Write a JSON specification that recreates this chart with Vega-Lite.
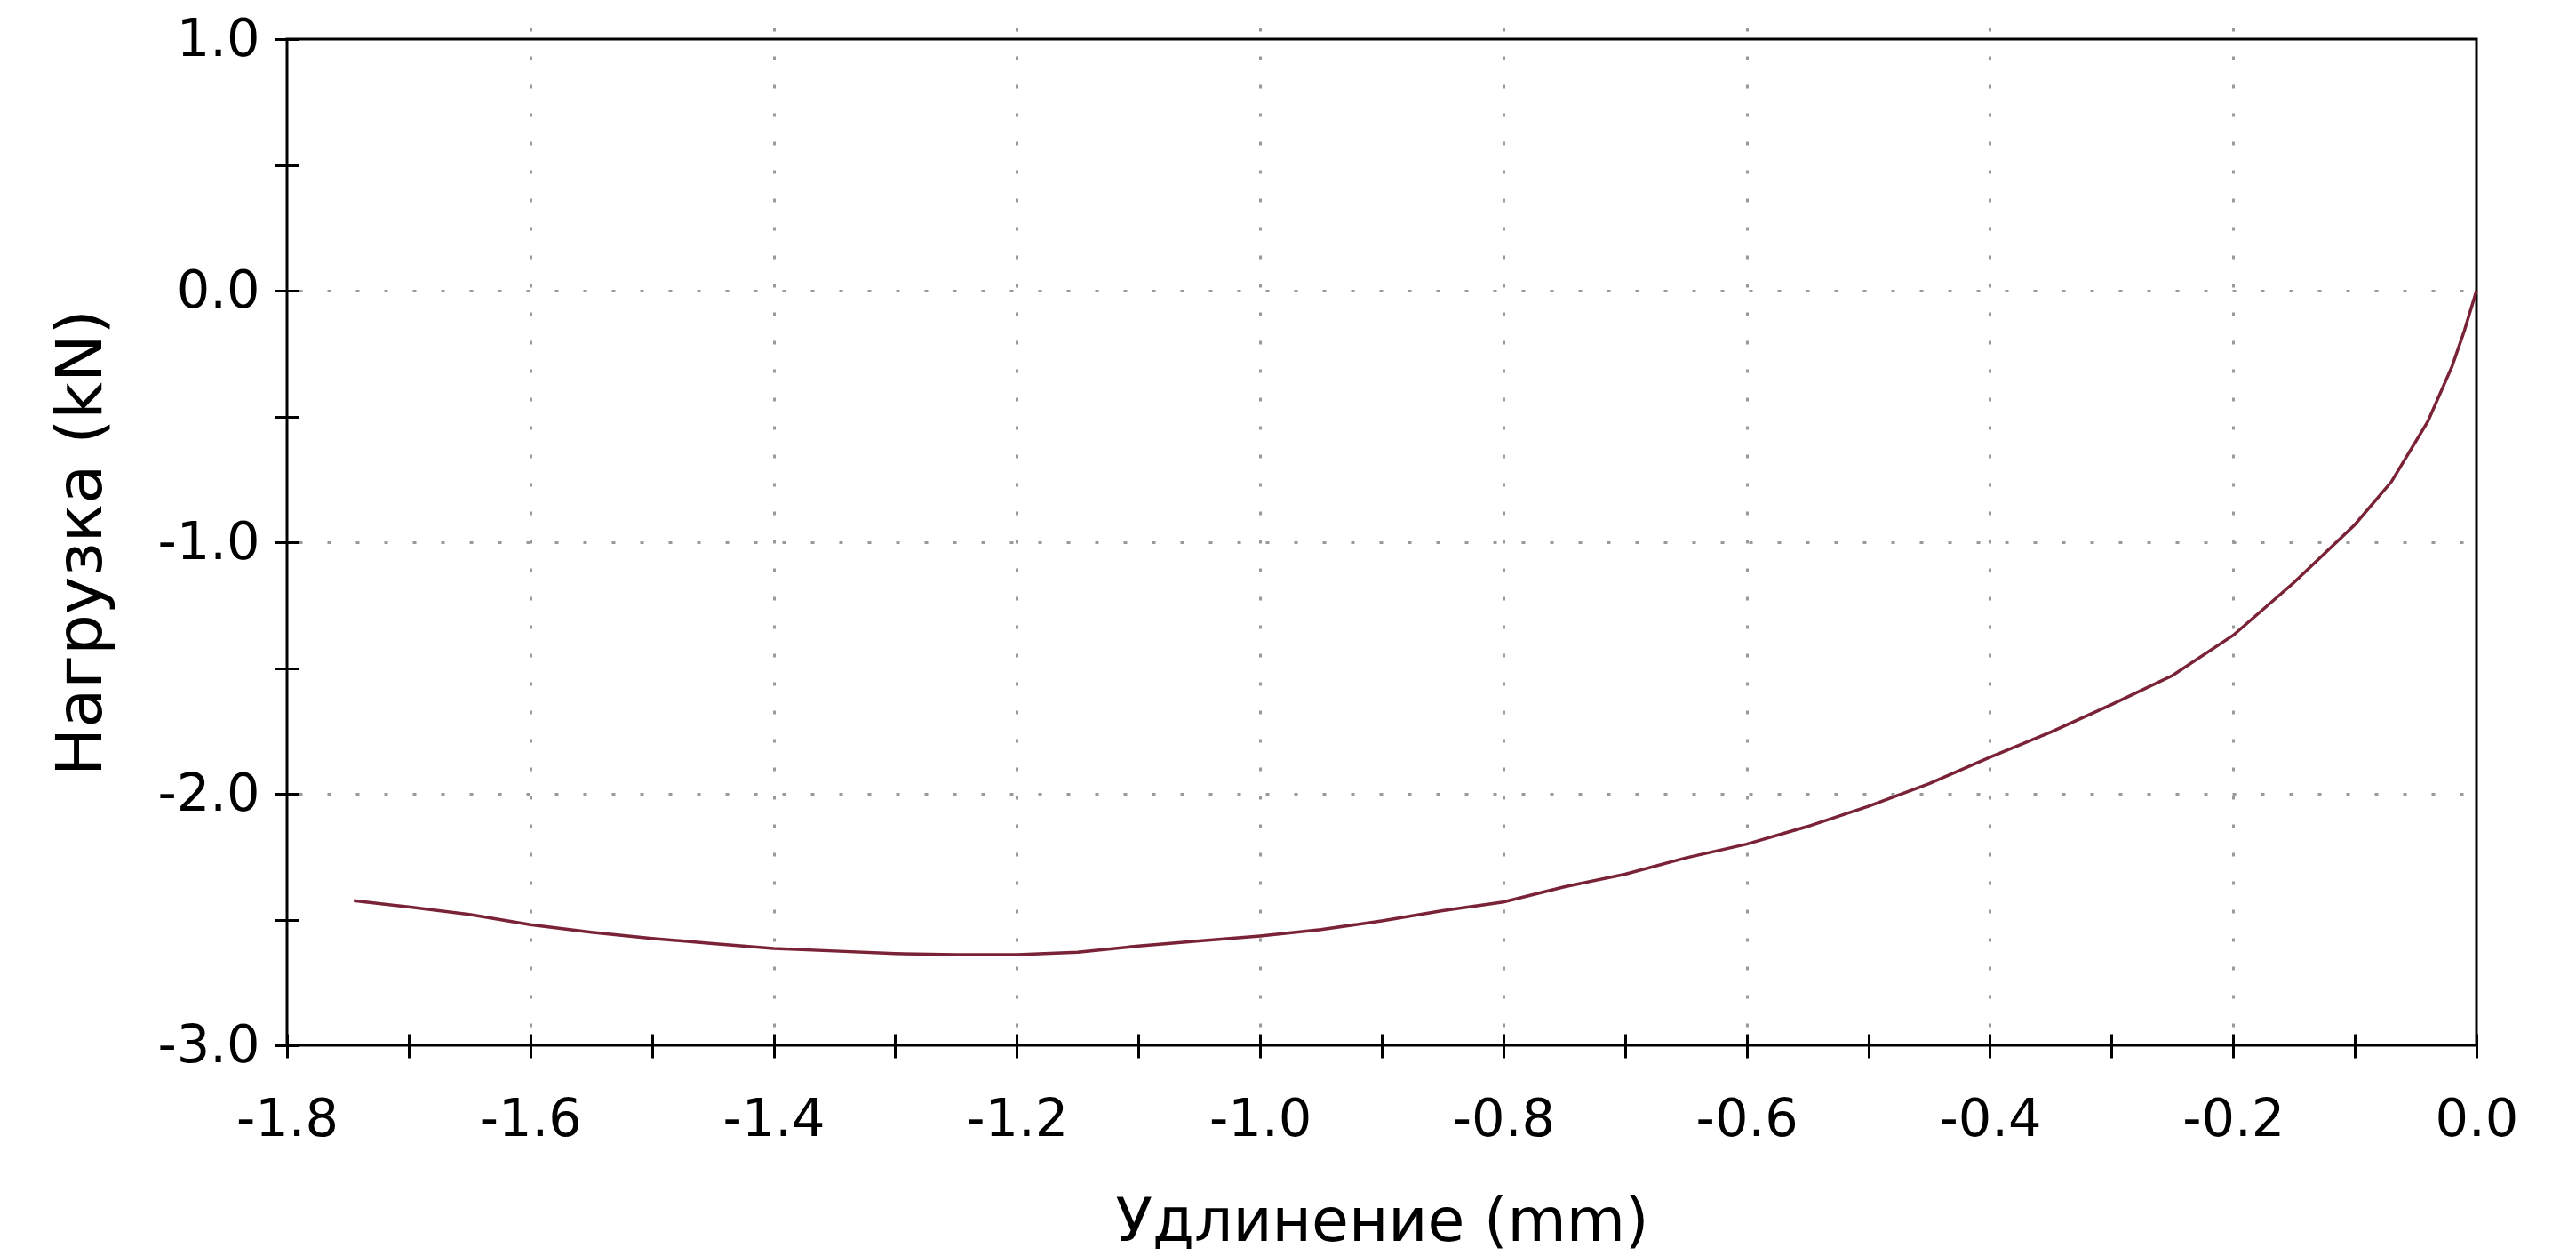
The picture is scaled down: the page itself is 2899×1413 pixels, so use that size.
{
  "$schema": "https://vega.github.io/schema/vega-lite/v6.json",
  "autosize": {"type": "none"},
  "width": 2464,
  "height": 1132,
  "padding": {"left": 323, "top": 44, "right": 112, "bottom": 237},
  "background": "white",
  "config": {
    "view": {"stroke": "black", "strokeWidth": 3},
    "font": "DejaVu Sans",
    "axis": {
      "domain": false,
      "tickColor": "black",
      "tickWidth": 3,
      "tickSize": 27,
      "offset": -13,
      "labelFont": "DejaVu Sans",
      "labelFontSize": 59,
      "labelColor": "black",
      "titleFont": "DejaVu Sans",
      "titleFontWeight": "normal",
      "titleColor": "black",
      "gridColor": "#9a9a9a",
      "gridWidth": 3,
      "gridDash": [4, 28]
    }
  },
  "data": {
    "values": [
      {"elong": -1.745, "load": -2.425},
      {"elong": -1.70, "load": -2.45},
      {"elong": -1.65, "load": -2.48},
      {"elong": -1.60, "load": -2.52},
      {"elong": -1.55, "load": -2.55},
      {"elong": -1.50, "load": -2.575},
      {"elong": -1.45, "load": -2.595},
      {"elong": -1.40, "load": -2.615},
      {"elong": -1.35, "load": -2.625},
      {"elong": -1.30, "load": -2.635},
      {"elong": -1.25, "load": -2.64},
      {"elong": -1.20, "load": -2.64},
      {"elong": -1.15, "load": -2.63},
      {"elong": -1.10, "load": -2.605},
      {"elong": -1.05, "load": -2.585},
      {"elong": -1.00, "load": -2.565},
      {"elong": -0.95, "load": -2.54},
      {"elong": -0.90, "load": -2.505},
      {"elong": -0.85, "load": -2.465},
      {"elong": -0.80, "load": -2.43},
      {"elong": -0.75, "load": -2.37},
      {"elong": -0.70, "load": -2.32},
      {"elong": -0.65, "load": -2.255},
      {"elong": -0.60, "load": -2.20},
      {"elong": -0.55, "load": -2.13},
      {"elong": -0.50, "load": -2.05},
      {"elong": -0.45, "load": -1.96},
      {"elong": -0.40, "load": -1.855},
      {"elong": -0.35, "load": -1.755},
      {"elong": -0.30, "load": -1.645},
      {"elong": -0.25, "load": -1.53},
      {"elong": -0.20, "load": -1.37},
      {"elong": -0.15, "load": -1.16},
      {"elong": -0.10, "load": -0.93},
      {"elong": -0.07, "load": -0.76},
      {"elong": -0.04, "load": -0.52},
      {"elong": -0.02, "load": -0.30},
      {"elong": -0.01, "load": -0.16},
      {"elong": 0.0, "load": 0.0}
    ]
  },
  "mark": {"type": "line", "color": "#7a2236", "strokeWidth": 3.5},
  "encoding": {
    "x": {
      "field": "elong",
      "type": "quantitative",
      "scale": {"domain": [-1.8, 0], "nice": false, "zero": false},
      "axis": {
        "title": "Удлинение (mm)",
        "titleFontSize": 68,
        "values": [-1.8, -1.7, -1.6, -1.5, -1.4, -1.3, -1.2, -1.1, -1.0, -0.9, -0.8, -0.7, -0.6, -0.5, -0.4, -0.3, -0.2, -0.1, 0],
        "labelExpr": "abs(round(datum.value * 10)) % 2 === 0 ? replace(format(datum.value, '.1f'), '−', '-') : ''",
        "labelPadding": 40,
        "labelFlush": false,
        "labelOverlap": false,
        "titlePadding": 52,
        "grid": true,
        "gridOpacity": {"condition": {"test": "abs(round(datum.value * 10)) % 2 === 0 && datum.value > -1.75 && datum.value < -0.05", "value": 1}, "value": 0}
      }
    },
    "y": {
      "field": "load",
      "type": "quantitative",
      "scale": {"domain": [-3, 1], "nice": false, "zero": false},
      "axis": {
        "title": "Нагрузка (kN)",
        "titleFontSize": 72,
        "values": [-3, -2.5, -2, -1.5, -1, -0.5, 0, 0.5, 1],
        "labelExpr": "datum.value === floor(datum.value) ? replace(format(datum.value, '.1f'), '−', '-') : ''",
        "labelPadding": 17,
        "labelFlush": false,
        "labelOverlap": false,
        "titlePadding": 48,
        "grid": true,
        "gridOpacity": {"condition": {"test": "datum.value === floor(datum.value) && datum.value > -3 && datum.value < 1", "value": 1}, "value": 0}
      }
    }
  }
}
